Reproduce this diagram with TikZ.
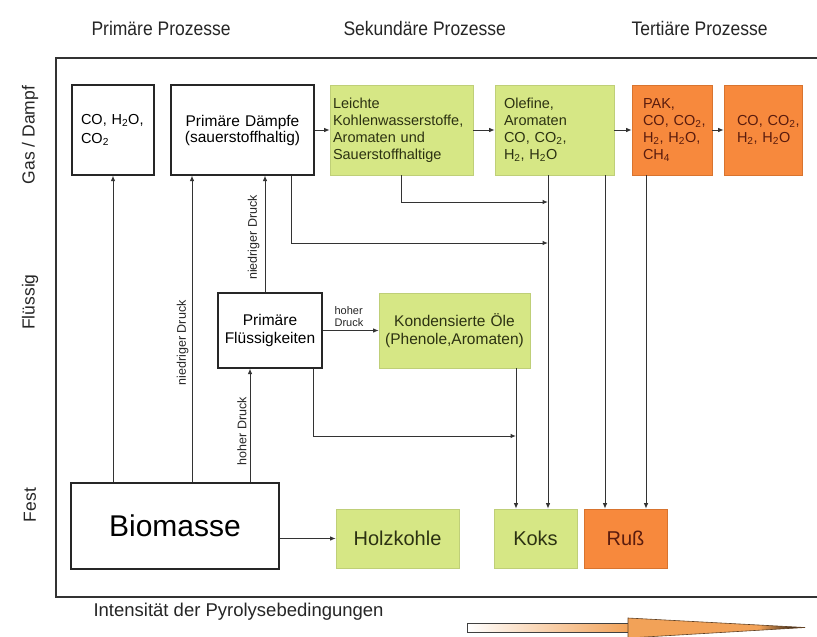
\documentclass[tikz,border=0pt]{standalone}
\usepackage{fontspec}
\setmainfont{Liberation Sans}
\usetikzlibrary{arrows.meta,calc}
\definecolor{gfill}{HTML}{D6E785}
\definecolor{gline}{HTML}{BFCF78}
\definecolor{ofill}{HTML}{F7893D}
\definecolor{oline}{HTML}{D8742F}
\definecolor{otext}{HTML}{5A1C0E}
\definecolor{gtext}{HTML}{2C3212}
\definecolor{arrowor}{HTML}{F2A258}
\newcommand\fsz[2]{\fontsize{#1pt}{#2pt}\selectfont}
\pgfdeclarehorizontalshading{headshade}{100bp}{color(0bp)=(arrowor); color(25bp)=(arrowor); color(62bp)=(arrowor); color(75bp)=(black); color(100bp)=(black)}
\begin{document}
\begin{tikzpicture}[x=1pt,y=-1pt,
  box/.style={rectangle, inner ysep=0pt, font=\fsz{14.5}{17}},
  wbox/.style={box, draw=black!85, line width=1.1pt, fill=white},
  gbox/.style={box, draw=gline, line width=0.6pt, fill=gfill, text=gtext},
  obox/.style={box, draw=oline, line width=0.6pt, fill=ofill, text=otext},
  arr/.style={draw=black!80, line width=1pt, -{Latex[length=5.5pt,width=4.5pt]}},
  lbl/.style={font=\fsz{12.5}{14}, inner sep=3pt, text=black!85},
  head/.style={font=\fsz{17.5}{20}, text=black!85},
  side/.style={font=\fsz{17.5}{20}, text=black!85, rotate=90}
]
\useasboundingbox (0,0) rectangle (817,637);
\fill[white] (0,0) rectangle (817,637);

% headers
\node[head, anchor=west, yscale=1.12] (h1) at (88,28) {Primäre Prozesse};
\node[head, anchor=west, yscale=1.12] (h2) at (340,28) {Sekundäre Prozesse};
\node[head, anchor=west, yscale=1.12] (h3) at (628,28) {Tertiäre Prozesse};

% side labels
\node[side] (s1) at (30,135) {Gas / Dampf};
\node[side] (s2) at (30,302) {Flüssig};
\node[side] (s3) at (30,505) {Fest};

% frame
\draw[line width=1.4pt, black!80] (56,58) rectangle (840,597);

% boxes
\node[wbox, minimum width=82, minimum height=90, inner xsep=9pt, text width=64, align=left, font=\fsz{14.5}{19}] (co) at (113,130)
  {CO,~H\textsubscript{2}O,\\CO\textsubscript{2}};
\node[wbox, minimum width=143, minimum height=90, inner xsep=3pt, text width=137, align=center, font=\fsz{15.5}{16}] (dampf) at (242.5,130)
  {Primäre Dämpfe\\(sauerstoffhaltig)};
\node[gbox, minimum width=143, minimum height=90, inner xsep=3pt, text width=137, align=left] (leicht) at (401.5,130)
  {Leichte\\Kohlenwasserstoffe,\\Aromaten und\\Sauerstoffhaltige};
\node[gbox, minimum width=119, minimum height=90, inner xsep=9pt, text width=101, align=left] (ol) at (554.5,130)
  {Olefine,\\Aromaten\\CO, CO\textsubscript{2},\\H\textsubscript{2}, H\textsubscript{2}O};
\node[obox, minimum width=80, minimum height=90, inner xsep=11pt, text width=58, align=left] (pak) at (672,130)
  {PAK,\\CO,~CO\textsubscript{2},\\H\textsubscript{2},~H\textsubscript{2}O,\\CH\textsubscript{4}};
\node[obox, minimum width=78, minimum height=90, inner xsep=13pt, text width=52, align=left] (co2) at (763,130)
  {CO,~CO\textsubscript{2},\\H\textsubscript{2},~H\textsubscript{2}O\\[8pt]};
\node[wbox, minimum width=104, minimum height=75, inner xsep=2pt, text width=100, align=center, font=\fsz{15.5}{18}] (fl) at (270,330.5)
  {Primäre\\Flüssigkeiten};
\node[gbox, minimum width=151, minimum height=75, inner xsep=2pt, text width=147, align=center, font=\fsz{15.5}{18}] (oel) at (454.5,330.5)
  {Kondensierte Öle\\(Phenole,Aromaten)};
\node[wbox, minimum width=208, minimum height=86, font=\fsz{30}{32}] (bio) at (175,526) {Biomasse};
\node[gbox, minimum width=123, minimum height=59, font=\fsz{20}{22}] (holz) at (397.5,538.5) {Holzkohle};
\node[gbox, minimum width=83, minimum height=59, font=\fsz{20}{22}] (koks) at (535.5,538.5) {Koks};
\node[obox, minimum width=83, minimum height=59, font=\fsz{20}{22}] (russ) at (625.5,538.5) {Ruß};

% x positions of vertical connectors
\coordinate (xA) at (192,0);
\coordinate (xB) at (250,0);
\coordinate (xC) at (265,0);
\coordinate (xD) at (291,0);
\coordinate (xF) at (401,0);
\coordinate (xE) at (548,0);
\coordinate (xG) at (605,0);
\coordinate (xH) at (646,0);
\coordinate (xI) at (313,0);
\coordinate (xJ) at (516,0);
\coordinate (j1) at (548,202);
\coordinate (j2) at (548,243);
\coordinate (j3) at (516,436);

% vertical connectors from Biomasse
\draw[arr] (bio.north -| co.south) -- (co.south);
\draw[arr] (bio.north -| xA) -- node[lbl, sloped, above, pos=0.455] {niedriger Druck} (dampf.south -| xA);
\draw[arr] (bio.north -| xB) -- node[lbl, sloped, above, pos=0.45] {hoher Druck} (fl.south -| xB);
\draw[arr] (fl.north -| xC) -- node[lbl, sloped, above, pos=0.47, inner sep=5pt] {niedriger Druck} (dampf.south -| xC);

% horizontal chain
\draw[arr] (dampf.east) -- (leicht.west);
\draw[arr] (leicht.east) -- (ol.west);
\draw[arr] (ol.east) -- (pak.west);
\draw[arr] (pak.east) -- (co2.west);
\draw[arr] (fl.east) -- node[lbl, above, pos=0.47, align=left, font=\fsz{11}{12.5}] {hoher\\Druck} (oel.west);
\draw[arr] (bio.east |- holz.west) -- (holz.west);

% to Koks / Russ
\draw[arr] (dampf.south -| xD) |- (j2);
\draw[arr] (leicht.south -| xF) |- (j1);
\draw[arr] (ol.south -| xE) -- (koks.north -| xE);
\draw[arr] (ol.south -| xG) -- (russ.north -| xG);
\draw[arr] (pak.south -| xH) -- (russ.north -| xH);
\draw[arr] (fl.south -| xI) |- (j3);
\draw[arr] (oel.south -| xJ) -- (koks.north -| xJ);

% bottom
\node[head, anchor=west, font=\fsz{18.5}{20}] (intens) at (90,612) {Intensität der Pyrolysebedingungen};
\shade[left color=white, right color=arrowor, draw=black!75, line width=0.7pt] (467,623) rectangle (630,632);
\shade[shading=headshade, draw=black!60!arrowor, line width=0.6pt] (628,618) -- (805,627.5) -- (628,638) -- cycle;
\end{tikzpicture}
\end{document}
